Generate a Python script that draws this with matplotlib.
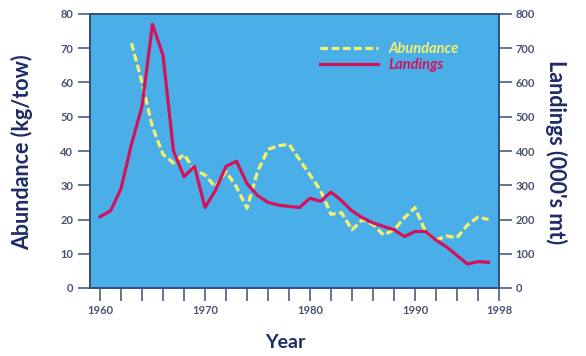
import numpy as np
import matplotlib
matplotlib.use('Agg')
import matplotlib.pyplot as plt

# abundance survey index (kg/tow), left axis
abund_years = list(range(1963, 1998))
abundance = [71.5, 60, 47, 39, 36.5, 39, 34.5, 33, 29.5, 34,
             29.5, 23.3, 34, 40.5, 41.5, 42, 37.5, 33, 28.5, 21.5,
             22, 17, 20, 18.5, 15.5, 17, 20.5, 23.5, 16.5, 14,
             15.2, 14.7, 18.4, 20.7, 20]

# landings (000's mt), right axis
land_years = list(range(1960, 1998))
landings = [208, 225, 290, 420, 530, 770, 680, 400, 325, 355,
            235, 285, 355, 370, 305, 270, 250, 242, 238, 235,
            262, 253, 280, 255, 225, 205, 190, 180, 170, 150,
            165, 165, 140, 120, 95, 70, 77, 75]

year_ticks = list(range(1960, 1999, 2))
year_labels = ['1960', '1970', '1980', '1990', '1998']

navy = '#1f2b66'
tickc = '#4a5270'
spine = '#35507a'
blue = '#4aafe8'
yellow = '#f6f06a'
red = '#d3125c'

plt.rcParams['font.family'] = ['Lato', 'DejaVu Sans']

W, H = 586, 356
fig = plt.figure(figsize=(W / 100, H / 100), dpi=100)
ax = fig.add_axes([90 / W, 1 - 288 / H, 409 / W, 274 / H])
ax.set_facecolor(blue)
ax2 = ax.twinx()

ax.plot(abund_years, abundance, color=yellow, lw=2.3, dashes=[2.4, 1.1],
        label='Abundance')
ax2.plot(land_years, landings, color=red, lw=2.3, label='Landings')

ax.set_xlim(1959.05, 1998)
ax.set_ylim(0, 80)
ax2.set_ylim(0, 800)
ax.set_yticks(range(0, 81, 10))
ax2.set_yticks(range(0, 801, 100))
ax.set_xticks(year_ticks)
ax.set_xticklabels([str(y) if str(y) in year_labels else '' for y in year_ticks])

for a in (ax, ax2):
    for s in a.spines.values():
        s.set_color(spine)
        s.set_linewidth(1.3)
ax.tick_params(axis='both', direction='out', length=9, width=1.1,
               color=spine, labelcolor=tickc, labelsize=8, pad=3)
ax2.tick_params(axis='y', direction='out', length=9, width=1.1,
                color=spine, labelcolor=tickc, labelsize=8, pad=3)
for lab in ax.get_xticklabels() + ax.get_yticklabels() + ax2.get_yticklabels():
    lab.set_fontweight('bold')

h1, l1 = ax.get_legend_handles_labels()
h2, l2 = ax2.get_legend_handles_labels()
leg = ax2.legend(h1 + h2, l1 + l2, loc='upper left', bbox_to_anchor=(0.53, 0.945),
                 frameon=False, handlelength=4.0, handletextpad=0.7,
                 labelspacing=0.1, labelcolor='linecolor',
                 prop={'style': 'italic', 'weight': 'bold', 'size': 10.5})

fig.text(22 / W, 1 - 152 / H, 'Abundance (kg/tow)', rotation=90, ha='center',
         va='center', color=navy, fontsize=15.5, fontweight='bold')
fig.text(556 / W, 1 - 152 / H, "Landings (000's mt)", rotation=270, ha='center',
         va='center', color=navy, fontsize=15.5, fontweight='bold')
fig.text(285 / W, 1 - 343 / H, 'Year', ha='center', va='center',
         color=navy, fontsize=14, fontweight='bold')

fig.savefig('out.png', dpi=100, facecolor='white')
